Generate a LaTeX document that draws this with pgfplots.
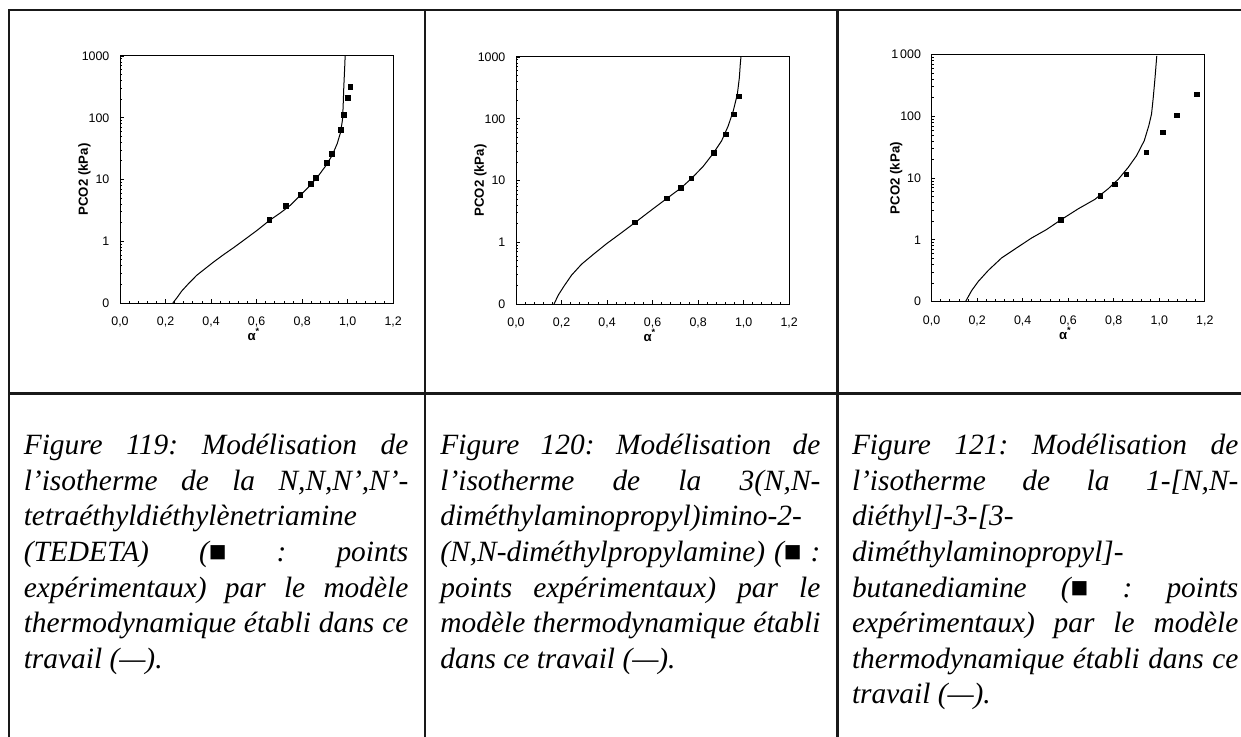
\documentclass[border=0pt]{standalone}
\usepackage{fontspec}
\setmainfont{Liberation Serif}
\newfontfamily\arial{Liberation Sans}
\usepackage{pgfplots}
\pgfplotsset{compat=1.18}

% caption lines: \J justified, \Lf flush left
\newcommand\J[1]{\hbox to \cw{#1}}
\newcommand\Lf[1]{\hbox to \cw{#1\hfill}}
\newcommand\capbox[2]{\vtop{\fontsize{14.7}{17.8}\selectfont\itshape
  \frenchspacing\spaceskip=0.25em plus 1fil minus 0.05em
  \baselineskip=17.8pt\def\cw{#2}#1}}

\newcommand\tickf{\arial\fontsize{6.2}{7}\selectfont}
\newcommand\labf{\arial\bfseries\fontsize{6.6}{7.5}\selectfont}

\pgfplotsset{iso/.style={
  scale only axis, width=136.6pt, height=123.5pt,
  xmin=0, xmax=1.2, ymin=0.1, ymax=1000,
  xtick={0,0.2,0.4,0.6,0.8,1.0,1.2}, minor x tick num=4,
  ytick={0.1,1,10,100,1000},
  minor ytick={0.2,0.3,0.4,0.5,0.6,0.7,0.8,0.9,2,3,4,5,6,7,8,9,20,30,40,50,60,70,80,90,200,300,400,500,600,700,800,900},
  tick pos=left, tick align=inside,
  major tick length=1.8pt, minor tick length=1.2pt,
  tick style={black, line width=0.4pt},
  axis line style={black, line width=0.5pt},
  xticklabel style={font=\tickf, yshift=-3.5pt,
    /pgf/number format/use comma, /pgf/number format/fixed,
    /pgf/number format/fixed zerofill, /pgf/number format/precision=1},
  yticklabel style={font=\tickf, xshift=-1.8pt},
  xlabel={α\textsuperscript{*}},
  ylabel={PCO2 (kPa)},
  xlabel style={font=\labf, at={(axis description cs:0.49,-0.102)}, anchor=north, inner sep=0pt},
  ylabel style={font=\labf, at={(axis description cs:-0.13,0.5)}, anchor=center, inner sep=0pt},
  /pgf/number format/assume math mode=true,
}}

\begin{document}
\begin{tikzpicture}
\path[use as bounding box] (0,0) rectangle (620.5pt,-368.5pt);

% table rules
\begin{scope}[line width=1.15pt, black!90]
\draw (4.5pt,-368.5pt) -- (4.5pt,-5pt) -- (620.5pt,-5pt);
\draw (4.5pt,-196.7pt) -- (620.5pt,-196.7pt);
\draw (212.5pt,-5pt) -- (212.5pt,-368.5pt);
\draw (418.75pt,-5pt) -- (418.75pt,-368.5pt);
\end{scope}

% Figure 119
\begin{axis}[ymode=log, iso, anchor=south west, at={(60pt,-151.5pt)}, yticklabels={0,1,10,100,1000}]
\addplot[black, line width=0.5pt] coordinates {
(0.232,0.1)(0.249,0.120)(0.271,0.156)(0.301,0.206)(0.337,0.281)(0.374,0.360)
(0.411,0.461)(0.455,0.607)(0.499,0.787)(0.543,1.035)(0.602,1.50)(0.657,2.18)
(0.704,2.87)(0.748,3.82)(0.792,5.54)(0.836,8.05)(0.873,11.7)(0.902,16.3)
(0.932,24.6)(0.954,38.0)(0.968,56.6)(0.977,90.8)(0.980,149)(0.983,315)
(0.987,664)(0.989,1000)};
\addplot[only marks, mark=square*, mark size=1.15pt, black] coordinates {
(0.657,2.21)(0.729,3.72)(0.792,5.68)(0.839,8.56)(0.861,10.7)(0.908,18.5)
(0.930,25.9)(0.970,64)(0.983,112)(1.000,211)(1.012,318)};
\end{axis}

% Figure 120
\begin{axis}[ymode=log, iso, anchor=south west, at={(258pt,-152pt)}, yticklabels={0,1,10,100,1000}]
\addplot[black, line width=0.5pt] coordinates {
(0.167,0.1)(0.186,0.140)(0.211,0.195)(0.244,0.293)(0.288,0.441)(0.340,0.638)
(0.398,0.948)(0.457,1.37)(0.522,2.07)(0.588,3.18)(0.662,5.10)(0.723,7.48)
(0.771,10.8)(0.822,16.9)(0.866,27.4)(0.903,43.8)(0.932,76.4)(0.954,133)
(0.972,247)(0.981,459)(0.985,753)(0.988,1000)};
\addplot[only marks, mark=square*, mark size=1.15pt, black] coordinates {
(0.522,2.10)(0.663,5.1)(0.723,7.6)(0.771,10.8)(0.868,27.7)(0.922,56)
(0.957,118)(0.980,230)};
\end{axis}

% Figure 121
\begin{axis}[ymode=log, iso, anchor=south west, at={(465.8pt,-150.8pt)}, yticklabels={0,1,10,100,1\,000}]
\addplot[black, line width=0.5pt] coordinates {
(0.149,0.1)(0.176,0.151)(0.205,0.212)(0.249,0.320)(0.307,0.508)(0.373,0.739)
(0.439,1.07)(0.505,1.47)(0.568,2.11)(0.644,3.18)(0.717,4.52)(0.776,6.74)
(0.820,9.57)(0.863,14.8)(0.900,23.0)(0.934,40.3)(0.954,70.6)(0.966,109)
(0.973,192)(0.981,406)(0.989,950)};
\addplot[only marks, mark=square*, mark size=1.15pt, black] coordinates {
(0.568,2.11)(0.741,5.13)(0.806,7.94)(0.855,11.4)(0.944,26)(1.017,55)
(1.077,104)(1.166,226)};
\end{axis}

% captions
\node[anchor=base west, inner sep=0pt] at (11.7pt,-227.3pt) {\capbox{
\J{Figure 119: Modélisation de}
\J{l’isotherme de la N,N,N’,N’-}
\Lf{tetraéthyldiéthylènetriamine}
\J{(TEDETA) (■ : points}
\J{expérimentaux) par le modèle}
\J{thermodynamique établi dans ce}
\Lf{travail (—).}}{192.3pt}};

\node[anchor=base west, inner sep=0pt] at (220pt,-227.3pt) {\capbox{
\J{Figure 120: Modélisation de}
\J{l’isotherme de la 3(N,N-}
\Lf{diméthylaminopropyl)imino-2-}
\J{(N,N-diméthylpropylamine) (■ :}
\J{points expérimentaux) par le}
\J{modèle thermodynamique établi}
\Lf{dans ce travail (—).}}{190pt}};

\node[anchor=base west, inner sep=0pt] at (425.8pt,-227.3pt) {\capbox{
\J{Figure 121: Modélisation de}
\J{l’isotherme de la 1-[N,N-}
\Lf{diéthyl]-3-[3-}
\Lf{diméthylaminopropyl]-}
\J{butanediamine (■ : points}
\J{expérimentaux) par le modèle}
\J{thermodynamique établi dans ce}
\Lf{travail (—).}}{193.2pt}};
\end{tikzpicture}
\end{document}
